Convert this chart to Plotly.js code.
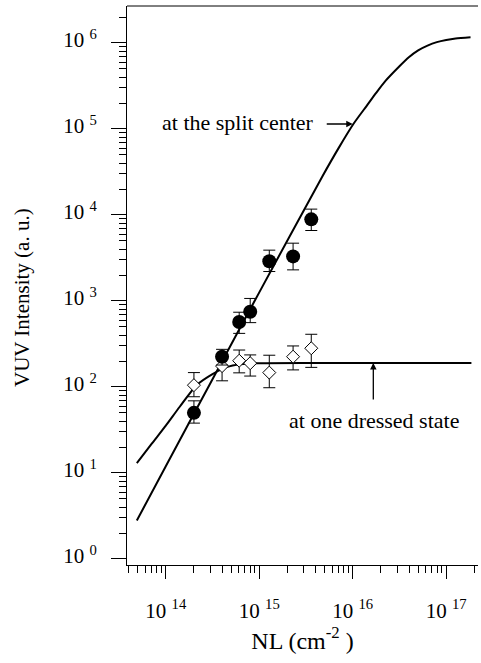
<!DOCTYPE html>
<html>
<head>
<meta charset="utf-8">
<script src="https://cdn.plot.ly/plotly-3.0.1.min.js"></script>
<style>html,body{margin:0;padding:0;background:#fff;}#chart{width:481px;height:663px;}</style>
</head>
<body>
<div id="chart"></div>
<script>
// ---- data ----
var nl = [2.0e14, 4.0e14, 6.1e14, 8.0e14, 1.28e15, 2.3e15, 3.6e15];

var splitY      = [50, 225, 570, 750, 2900, 3300, 8900];
var splitErrUp  = [19, 49, 170, 320, 1000, 1400, 2800];
var splitErrDn  = [12, 45, 150, 190, 700, 1000, 2300];

var dressedY     = [105, 175, 202, 189, 147, 225, 282];
var dressedErrUp = [42, 60, 67, 47, 87, 75, 128];
var dressedErrDn = [28, 57, 56, 55, 49, 67, 113];

var splitCurveX = [4.9e13, 1e14, 3.16e14, 1e15, 4.68e15, 7.08e15, 1.02e16, 1.41e16, 1.78e16, 2.24e16, 3.16e16, 3.98e16, 5.01e16, 6.31e16, 7.94e16, 1e17, 1.26e17, 1.82e17];
var splitCurveY = [2.8, 12, 123, 1260, 27500, 60300, 115000, 186000, 263000, 363000, 537000, 684000, 822000, 933000, 1.023e6, 1.084e6, 1.127e6, 1.164e6];

var dressedCurveX = [4.9e13, 7.08e13, 1e14, 1.41e14, 2.14e14, 3.16e14, 4.47e14, 6.31e14, 1e15, 1e16, 1.86e17];
var dressedCurveY = [13, 21.9, 35.5, 58.9, 105, 141, 170, 184, 189, 190, 190];

var xTickVals = [1e14, 1e15, 1e16, 1e17];
var xTickText = ['10 <sup>14</sup>', '10 <sup>15</sup>', '10 <sup>16</sup>', '10 <sup>17</sup>'];
var yTickVals = [1, 10, 100, 1000, 1e4, 1e5, 1e6];
var yTickText = ['10 <sup>0</sup>', '10 <sup>1</sup>', '10 <sup>2</sup>', '10 <sup>3</sup>', '10 <sup>4</sup>', '10 <sup>5</sup>', '10 <sup>6</sup>'];

// minor tick positions (2..9 in each decade)
function minorVals(e0, e1) {
  var out = [];
  for (var e = e0; e <= e1; e++) for (var m = 2; m <= 9; m++) out.push(m * Math.pow(10, e));
  return out;
}
var xMinor = minorVals(13, 17).filter(function (v) { return v > 3.9e13 && v < 2.2e17; });
var yMinor = minorVals(0, 6).filter(function (v) { return v < 2.6e6; });

var FONT = "'Liberation Serif', 'Times New Roman', serif";

var traces = [
  { x: splitCurveX, y: splitCurveY, mode: 'lines', line: { color: '#000', width: 2, shape: 'spline', smoothing: 0.7 }, hoverinfo: 'skip' },
  { x: dressedCurveX, y: dressedCurveY, mode: 'lines', line: { color: '#000', width: 2, shape: 'spline', smoothing: 0.8 }, hoverinfo: 'skip' },
  { x: nl, y: dressedY, mode: 'markers',
    marker: { symbol: 'diamond', size: 10, color: '#fff', line: { color: '#000', width: 1 } },
    error_y: { type: 'data', symmetric: false, array: dressedErrUp, arrayminus: dressedErrDn, color: '#000', thickness: 1, width: 6 } },
  { x: nl, y: splitY, mode: 'markers',
    marker: { symbol: 'circle', size: 14, color: '#000' },
    error_y: { type: 'data', symmetric: false, array: splitErrUp, arrayminus: splitErrDn, color: '#000', thickness: 1, width: 6 } }
];

var layout = {
  width: 481, height: 663,
  margin: { l: 127, r: 3, t: 6, b: 98 },
  paper_bgcolor: '#fff', plot_bgcolor: '#fff',
  showlegend: false,
  font: { family: FONT, color: '#000', size: 20 },
  xaxis: {
    type: 'log', range: [13.585, 17.34],
    showgrid: false, zeroline: false,
    showline: true, linecolor: '#000', linewidth: 1,
    ticks: 'outside', ticklen: 13, tickwidth: 1, tickcolor: '#000',
    tickmode: 'array', tickvals: xTickVals, ticktext: xTickText,
    tickfont: { family: FONT, size: 21 }, ticklabelstandoff: 14,
    minor: { tickmode: 'array', tickvals: xMinor, ticks: 'outside', ticklen: 7, tickwidth: 1, tickcolor: '#000', showgrid: false },
    title: { text: 'NL (cm<sup>-2</sup> )', font: { family: FONT, size: 24 }, standoff: 9 }
  },
  yaxis: {
    type: 'log', range: [-0.07, 6.43],
    showgrid: false, zeroline: false,
    showline: true, linecolor: '#000', linewidth: 1,
    ticks: 'outside', ticklen: 15, tickwidth: 1, tickcolor: '#000',
    tickmode: 'array', tickvals: yTickVals, ticktext: yTickText,
    tickfont: { family: FONT, size: 21 }, ticklabelstandoff: 10, ticklabelshift: -3,
    minor: { tickmode: 'array', tickvals: yMinor, ticks: 'outside', ticklen: 7, tickwidth: 1, tickcolor: '#000', showgrid: false }
  },
  shapes: [
    { type: 'line', xref: 'paper', yref: 'paper', x0: 0, x1: 1, y0: 1, y1: 1, line: { color: '#000', width: 1 } }
  ],
  annotations: [
    { xref: 'paper', yref: 'paper', x: -0.299, y: 0.4777, xanchor: 'center', yanchor: 'middle',
      text: 'VUV Intensity (a. u.)', textangle: -90, showarrow: false, font: { family: FONT, size: 21 } },
    { xref: 'x', yref: 'y', x: 15.61, y: 5.07, xanchor: 'right', yanchor: 'middle',
      text: 'at the split center', showarrow: false, font: { family: FONT, size: 22 } },
    { xref: 'x', yref: 'y', x: 16.0, y: 5.058, text: ' ', showarrow: true, ax: -28, ay: 0,
      arrowhead: 2, arrowsize: 1, arrowwidth: 1.3, arrowcolor: '#000', font: { size: 2 } },
    { xref: 'x', yref: 'y', x: 16.225, y: 1.616, xanchor: 'center', yanchor: 'middle',
      text: 'at one dressed state', showarrow: false, font: { family: FONT, size: 22 } },
    { xref: 'x', yref: 'y', x: 16.22, y: 2.28, text: ' ', showarrow: true, ax: 0, ay: 39,
      arrowhead: 2, arrowsize: 1, arrowwidth: 1.3, arrowcolor: '#000', font: { size: 2 } }
  ]
};

Plotly.newPlot('chart', traces, layout, { staticPlot: true, displayModeBar: false });
</script>
</body>
</html>
